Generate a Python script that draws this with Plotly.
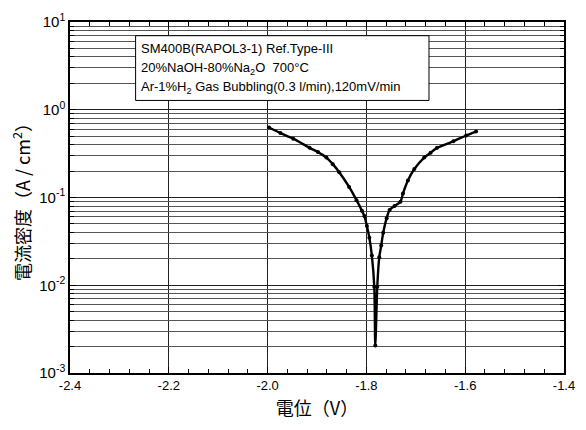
import plotly.graph_objects as go

# Data
potential = [-1.997, -1.974, -1.948, -1.915, -1.898, -1.881, -1.868, -1.855, -1.835,
             -1.820, -1.809, -1.804, -1.799, -1.794, -1.789, -1.784, -1.782, -1.778,
             -1.774, -1.770, -1.766, -1.759, -1.753, -1.743, -1.731, -1.726, -1.716,
             -1.703, -1.683, -1.670, -1.657, -1.624, -1.598, -1.578]
current = [0.627, 0.542, 0.468, 0.368, 0.329, 0.285, 0.240, 0.194, 0.132,
           0.0933, 0.0708, 0.0614, 0.0474, 0.0348, 0.0219, 0.0096, 0.00206, 0.0096,
           0.0208, 0.0284, 0.0396, 0.0582, 0.0721, 0.080, 0.0895, 0.111, 0.156,
           0.211, 0.285, 0.324, 0.368, 0.437, 0.509, 0.565]

x_ticks = [-2.4, -2.2, -2.0, -1.8, -1.6, -1.4]
x_ticktext = ["-2.4", "-2.2", "-2.0", "-1.8", "-1.6", "-1.4"]
y_ticks = [1e-3, 1e-2, 1e-1, 1, 10]
y_ticktext = ["10<sup>-3</sup>", "10<sup>-2</sup>", "10<sup>-1</sup>", "10<sup>0</sup>", "10<sup>1</sup>"]
y_minor = [m * 10 ** e for e in range(-3, 1) for m in range(2, 10)]
x_minor = [round(-2.4 + 0.04 * i, 2) for i in range(26)]

info_lines = [
    "SM400B(RAPOL3-1) Ref.Type-III",
    "20%NaOH-80%Na<sub>2</sub>O  700°C",
    "Ar-1%H<sub>2</sub> Gas Bubbling(0.3 l/min),120mV/min",
]

fig = go.Figure()
fig.add_trace(go.Scatter(
    x=potential, y=current, mode="lines+markers",
    line=dict(color="black", width=2.4, shape="spline", smoothing=0.7),
    marker=dict(color="black", size=4),
    showlegend=False, hoverinfo="x+y",
))
# invisible trace on overlay axes so they render
fig.add_trace(go.Scatter(x=[-2.4], y=[1], xaxis="x2", yaxis="y2",
                         mode="markers", marker=dict(opacity=0), showlegend=False,
                         hoverinfo="skip"))

font_num = "Liberation Sans, Arial, sans-serif"
font_cjk = "Noto Sans CJK JP, sans-serif"

fig.update_layout(
    width=586, height=430,
    margin=dict(l=70, r=11, t=15, b=57),
    paper_bgcolor="white", plot_bgcolor="white",
    font=dict(family=font_num, size=12, color="black"),
    xaxis=dict(
        range=[-2.4, -1.4], tickmode="array", tickvals=x_ticks, ticktext=x_ticktext,
        showgrid=True, gridcolor="#222", gridwidth=1,
        showline=True, linecolor="black", linewidth=1.5, mirror="ticks",
        ticks="inside", ticklen=6, tickcolor="black", zeroline=False,
        tickfont=dict(family=font_num, size=13),
        title=dict(text="電位（V）", font=dict(family=font_cjk, size=18, color="black"), standoff=10),
    ),
    yaxis=dict(
        type="log", range=[-3, 1], tickmode="array", tickvals=y_ticks, ticktext=y_ticktext,
        showgrid=True, gridcolor="#222", gridwidth=1,
        showline=True, linecolor="black", linewidth=1.5, mirror="ticks",
        ticks="inside", ticklen=6, tickcolor="black", zeroline=False,
        tickfont=dict(family=font_num, size=15),
        title=dict(text="電流密度（A / cm<sup>2</sup>）", font=dict(family=font_cjk, size=18, color="black"), standoff=4),
    ),
    xaxis2=dict(
        overlaying="x", range=[-2.4, -1.4], tickmode="array", tickvals=x_minor,
        showticklabels=False, showgrid=False, ticks="inside", ticklen=4,
        tickcolor="black", mirror="ticks", showline=False, zeroline=False,
    ),
    yaxis2=dict(
        overlaying="y", type="log", range=[-3, 1], tickmode="array", tickvals=y_minor,
        showticklabels=False, showgrid=True, gridcolor="#555", gridwidth=1,
        ticks="inside", ticklen=4, tickcolor="black", mirror="ticks",
        showline=False, zeroline=False,
    ),
)

# Info box
fig.add_shape(type="rect", xref="paper", yref="paper",
              x0=0.1328, x1=0.7267, y0=0.7765, y1=0.961,
              line=dict(color="black", width=1), fillcolor="white", layer="above")
for i, t in enumerate(info_lines):
    fig.add_annotation(text=t, xref="paper", yref="paper",
                       x=0.140, y=0.9245 - i * 0.0559, xanchor="left", yanchor="middle",
                       showarrow=False, font=dict(family=font_num, size=13, color="black"))

fig.write_html("out.html")
